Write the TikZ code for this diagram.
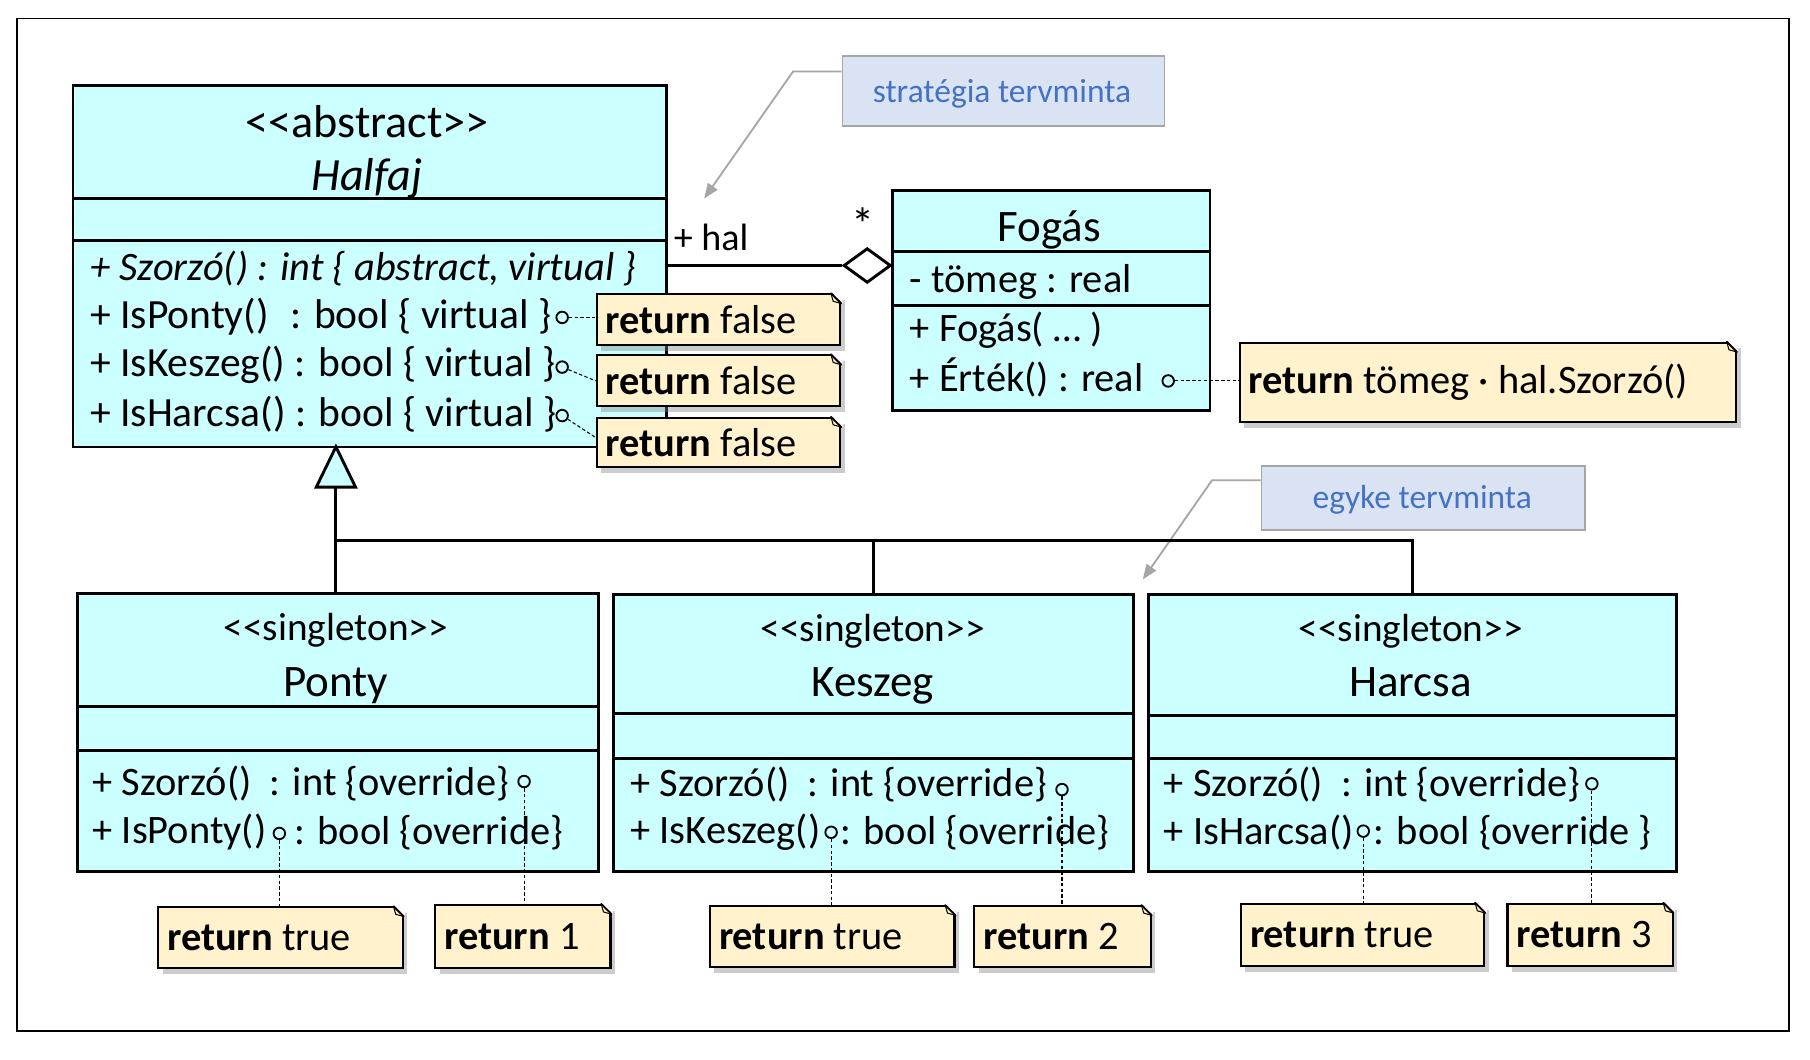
\documentclass[tikz,border=0pt]{standalone}
\usepackage{fontspec}
\setmainfont{Carlito}
\usetikzlibrary{shadows,calc,arrows.meta,shapes.geometric}
\definecolor{clsfill}{HTML}{CCFFFF}
\definecolor{notefill}{HTML}{FFF2CC}
\definecolor{infofill}{HTML}{DAE3F3}
\definecolor{infoborder}{HTML}{A6A6A6}
\definecolor{infotext}{HTML}{4472C4}
\definecolor{pointergray}{HTML}{A6A6A6}
\newcommand\fs[1]{\fontsize{#1}{#1}\selectfont}
\newcommand\mknote[6]{%
  \pgfmathsetmacro\notew{#4-#2-16}%
  \pgfmathsetmacro\noteh{#5-#3}%
  \node[notebox, anchor=north west, minimum height=\noteh pt] (#1) at (#2,#3) {\makebox[\notew pt][l]{#6}};%
  \fill[white] ($(#1.north east)+(-9,-1.2)$) -- ($(#1.north east)+(1.2,-1.2)$) -- ($(#1.north east)+(1.2,9)$) -- cycle;%
  \draw[line width=1.6pt, line cap=round] ($(#1.north east)+(-9,0)$) -- ($(#1.north east)+(0,9)$);%
  \draw[line width=0.9pt] ($(#1.north east)+(-9,0)$) -- ($(#1.north east)+(-7,7)$) -- ($(#1.north east)+(0,9)$);%
}
\tikzset{
  cls/.style={draw, line width=2.5pt, fill=clsfill, inner sep=0pt},
  sep/.style={line width=2.5pt},
  mem/.style={inner sep=0pt, anchor=west, font=\fs{35}},
  hmem/.style={inner sep=0pt, anchor=west, font=\fs{36}},
  ttl/.style={inner sep=0pt, font=\fs{39}},
  stereo/.style={inner sep=0pt, font=\fs{34}},
  port/.style={circle, draw, line width=1.6pt, minimum size=10pt, inner sep=0pt},
  notebox/.style={draw, line width=1.8pt, fill=notefill, inner xsep=8pt, inner ysep=0pt,
     font=\fs{35},
     drop shadow={shadow xshift=4pt, shadow yshift=-5pt, opacity=0.4}},
  conn/.style={line width=0.9pt, dash pattern=on 3pt off 2pt},
  genline/.style={line width=2.5pt},
  info/.style={draw=infoborder, line width=1.6pt, fill=infofill, inner sep=0pt},
  infotxt/.style={text=infotext, font=\fs{29}, inner sep=0pt},
  pointer/.style={draw=pointergray, line width=1.6pt, -{Triangle[length=13pt,width=10pt]}, fill=none},
}
\begin{document}
\begin{tikzpicture}[x=1pt, y=-1pt]
\useasboundingbox (0,0) rectangle (1568,918);
\fill[white] (0,0) rectangle (1568,918);
\draw[line width=1.6pt] (15,16) rectangle (1550,893);

% ---------- Halfaj ----------
\node[cls, anchor=north west, minimum width=514pt, minimum height=313pt] (halfaj) at (62,73) {};
\draw[sep] (62,172) -- (576,172);
\draw[sep] (62,208) -- (576,208);
\node[inner sep=0pt, font=\fs{40}] (hst) at (318,105) {<\kern0pt<abstract>\kern0pt>};
\node[inner sep=0pt, font=\fs{40}\itshape] (hname) at (318,155) {Halfaj};
\node[hmem, font=\fs{35}\itshape] (hm1) at (78,233) {+ Szorzó() : int \{ abstract, virtual \}};
\node[hmem] (hm2a) at (78,274) {+ IsPonty()};
\node[hmem, anchor=east] (hm2b) at (478,274) {: bool \{ virtual \}};
\node[hmem] (hm3) at (78,316) {+ IsKeszeg() : bool \{ virtual \}};
\node[hmem] (hm4) at (78,359) {+ IsHarcsa() : bool \{ virtual \}};
\node[port] (hp1) at (487,275) {};
\node[port] (hp2) at (487,318) {};
\node[port] (hp3) at (487,360) {};

\mknote{nf1}{516}{254}{727}{298}{\textbf{return} false}
\mknote{nf2}{516}{307}{727}{351}{\textbf{return} false}
\mknote{nf3}{516}{361}{727}{404}{\textbf{return} false}
\draw[conn] (hp1) -- (nf1.west |- hp1);
\draw[conn] (hp2) -- (nf2.west);
\draw[conn] (hp3) -- ($(nf3.north west)+(0,18)$);

% ---------- Fogas ----------
\node[cls, anchor=north west, minimum width=275pt, minimum height=190pt] (fogas) at (772,164) {};
\draw[sep] (772,218) -- (1047,218);
\draw[sep] (772,265) -- (1047,265);
\node[ttl] (fname) at (909,199) {Fogás};
\node[mem] (fa1) at (788,244) {- tömeg : real};
\node[mem] (fm1) at (788,286) {+ Fogás( … )};
\node[mem] (fm2) at (788,327) {+ Érték() : real};
\node[port] (fp) at (1012,330) {};
\mknote{fnote}{1073}{296}{1503}{365}{\textbf{return} tömeg · hal.Szorzó()}
\draw[conn] (fp) -- (fnote.west |- fp);

% ---------- association ----------
\coordinate (assocA) at (576,230);
\node[diamond, draw, line width=2.5pt, fill=white, minimum width=41pt, minimum height=30pt, inner sep=0pt, anchor=east] (dia) at (773,230) {};
\draw[line width=2.2pt] (assocA) -- (dia.west);
\node[inner sep=0pt, font=\fs{33}] (rolehal) at (616,206) {+ hal};
\node[inner sep=0pt, font=\fs{40}] (mult) at (748,194) {*};

% ---------- strategy note ----------
\node[info, anchor=north west, minimum width=279pt, minimum height=60pt] (strat) at (729,48) {};
\node[infotxt] (strattxt) at (868,81) {stratégia tervminta};
\coordinate (stratTip) at (610,172);
\draw[pointer] ($(strat.north west)+(0,14)$) -- ++(-42,0) -- (stratTip);

% ---------- egyke note ----------
\node[info, anchor=north west, minimum width=280pt, minimum height=55pt] (egyke) at (1092,403) {};
\node[infotxt] (egyketxt) at (1232,433) {egyke tervminta};
\coordinate (egykeTip) at (990,502);
\draw[pointer] ($(egyke.north west)+(0,13)$) -- ++(-42,0) -- (egykeTip);

% ---------- subclasses ----------
\node[cls, anchor=north west, minimum width=451pt, minimum height=241pt] (ponty) at (66,513) {};
\draw[sep] (66,612) -- (517,612);
\draw[sep] (66,650) -- (517,650);
\node[stereo] (pst) at (291,546) {<\kern0pt<singleton>\kern0pt>};
\node[ttl] (pname) at (291,594) {Ponty};
\node[mem] (pm1) at (80,679) {+ Szorzó()\ \ : int \{override\}};
\node[port] (pp1) at (454,677) {};
\node[mem] (pm2a) at (80,721) {+ IsPonty()};
\node[port] (pp2) at (242,722) {};
\node[mem] (pm2b) at (255,721) {: bool \{override\}};

\node[cls, anchor=north west, minimum width=451pt, minimum height=240pt] (keszeg) at (530,514) {};
\draw[sep] (530,618) -- (981,618);
\draw[sep] (530,657) -- (981,657);
\node[stereo] (kst) at (756,547) {<\kern0pt<singleton>\kern0pt>};
\node[ttl] (kname) at (756,594) {Keszeg};
\node[mem] (km1) at (546,680) {+ Szorzó()\ \ : int \{override\}};
\node[port] (kp1) at (920,684) {};
\node[mem] (km2a) at (546,721) {+ IsKeszeg()};
\node[port] (kp2) at (720,721) {};
\node[mem] (km2b) at (728,721) {: bool\ \{override\}};

\node[cls, anchor=north west, minimum width=457pt, minimum height=240pt] (harcsa) at (994,514) {};
\draw[sep] (994,620) -- (1451,620);
\draw[sep] (994,657) -- (1451,657);
\node[stereo] (hast) at (1222,547) {<\kern0pt<singleton>\kern0pt>};
\node[ttl] (haname) at (1222,591) {Harcsa};
\node[mem] (ham1) at (1008,680) {+ Szorzó()\ \ : int \{override\}};
\node[port] (hap1) at (1379,679) {};
\node[mem] (ham2a) at (1008,721) {+ IsHarcsa()};
\node[port] (hap2) at (1181,720) {};
\node[mem] (ham2b) at (1190,721) {: bool\ \{override \}};

% ---------- generalization ----------
\coordinate (genapex) at (291,387);
\coordinate (genbase) at (291,422);
\coordinate (bus) at (291,468);
\draw[genline] (genbase) -- (ponty.north -| genbase);
\draw[genline] (bus) -| (keszeg.north);
\draw[genline] (bus) -| (harcsa.north);
\draw[line width=2.5pt, fill=clsfill, line join=miter] (genapex) -- ++(17,35) -- ++(-34,0) -- cycle;

% ---------- subclass notes ----------
\mknote{pn1}{136}{785}{348}{838}{\textbf{return} true}
\mknote{pn2}{376}{783}{528}{838}{\textbf{return} 1}
\mknote{kn1}{614}{784}{826}{837}{\textbf{return} true}
\mknote{kn2}{843}{784}{996}{837}{\textbf{return} 2}
\mknote{hn1}{1074}{782}{1285}{836}{\textbf{return} true}
\mknote{hn2}{1305}{782}{1448}{836}{\textbf{return} 3}
\draw[conn] (pp2) -- (pn1.north -| pp2);
\draw[conn] (pp1) -- (pn2.north -| pp1);
\draw[conn] (kp2) -- (kn1.north -| kp2);
\draw[conn] (kp1) -- (kn2.north -| kp1);
\draw[conn] (hap2) -- (hn1.north -| hap2);
\draw[conn] (hap1) -- (hn2.north -| hap1);
\end{tikzpicture}
\end{document}
